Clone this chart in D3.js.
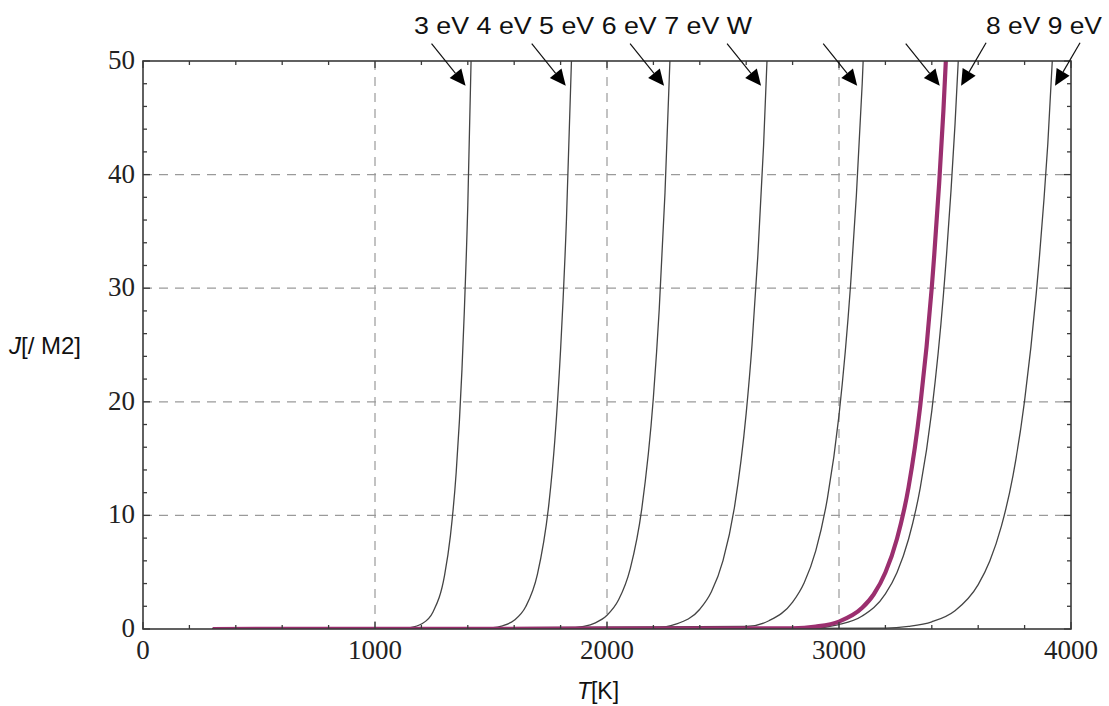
<!DOCTYPE html>
<html>
<head>
<meta charset="utf-8">
<script src="https://cdn.jsdelivr.net/npm/d3@7"></script>
<style>
  html, body { margin: 0; padding: 0; background: #fff; }
  svg { display: block; }
</style>
</head>
<body>
<svg id="chart" width="1109" height="706"></svg>
<script>
// ---------------- DATA ----------------
const xTicks = [0, 1000, 2000, 3000, 4000];
const yTicks = [0, 10, 20, 30, 40, 50];
const seriesNames = ["3 eV", "4 eV", "5 eV", "6 eV", "7 eV", "W", "8 eV", "9 eV"];

// [T (K), J] pairs
const curve3eV = [[300,0],[1000,0.001],[1100,0.026],[1150,0.113],[1200,0.435],[1250,1.5],[1300,4.75],[1325,8.2],[1350,13.8],[1375,22.9],[1400,37.3],[1425,59.8]];
const curve4eV = [[300,0],[1400,0.009],[1500,0.098],[1550,0.285],[1600,0.77],[1650,1.98],[1700,4.81],[1750,11.1],[1775,16.6],[1800,24.6],[1825,35.9],[1850,52.1]];
const curve5eV = [[300,0],[1800,0.039],[1900,0.237],[1950,0.546],[2000,1.21],[2050,2.57],[2100,5.3],[2150,10.6],[2200,20.4],[2225,28.1],[2250,38.4],[2275,52.1]];
const curve6eV = [[300,0],[2200,0.104],[2300,0.452],[2400,1.74],[2450,3.28],[2500,6.02],[2550,10.8],[2600,19.0],[2625,25.0],[2650,32.8],[2675,42.6],[2700,55.3]];
const curve7eV = [[300,0],[2600,0.219],[2700,0.751],[2800,2.37],[2850,4.08],[2900,6.9],[2950,11.5],[3000,18.8],[3050,30.3],[3075,38.2],[3100,48.0],[3125,60.2]];
const curveW   = [[300,0],[2800,0.065],[2900,0.213],[3000,0.652],[3100,1.86],[3150,3.06],[3200,4.97],[3250,7.95],[3300,12.5],[3350,19.6],[3400,30.1],[3450,45.6],[3475,56.1]];
const curve8eV = [[300,0],[2900,0.126],[3000,0.393],[3100,1.14],[3200,3.09],[3250,4.98],[3300,7.92],[3350,12.4],[3400,19.2],[3450,29.4],[3500,44.4],[3525,54.4]];
const curve9eV = [[300,0],[3200,0.082],[3300,0.235],[3400,0.633],[3500,1.61],[3600,3.91],[3650,5.98],[3700,9.05],[3750,13.5],[3800,20.1],[3850,29.5],[3900,42.7],[3950,61.6]];

// ---------------- LAYOUT ----------------
const plot = { left: 143, right: 1071, top: 61, bottom: 629 };
const svg = d3.select("#chart");

const x = d3.scaleLinear().domain([0, 4000]).range([plot.left, plot.right]);
const y = d3.scaleLinear().domain([0, 50]).range([plot.bottom, plot.top]);

const series = [
  { name: seriesNames[0], data: curve3eV, hl: false, side: -1 },
  { name: seriesNames[1], data: curve4eV, hl: false, side: -1 },
  { name: seriesNames[2], data: curve5eV, hl: false, side: -1 },
  { name: seriesNames[3], data: curve6eV, hl: false, side: -1 },
  { name: seriesNames[4], data: curve7eV, hl: false, side: -1 },
  { name: seriesNames[5], data: curveW,   hl: true,  side: -1 },
  { name: seriesNames[6], data: curve8eV, hl: false, side: 1 },
  { name: seriesNames[7], data: curve9eV, hl: false, side: 1 }
];

const axisColor = "#3a3a3a";
const gridColor = "#9a9a9a";

// clip
svg.append("defs").append("clipPath").attr("id", "plotClip")
  .append("rect").attr("x", plot.left).attr("y", plot.top)
  .attr("width", plot.right - plot.left).attr("height", plot.bottom - plot.top);

// grid
const grid = svg.append("g");
grid.selectAll("line.vg").data(xTicks.filter(d => d > 0 && d < 4000)).join("line")
  .attr("x1", d => x(d)).attr("x2", d => x(d))
  .attr("y1", plot.top).attr("y2", plot.bottom)
  .attr("stroke", gridColor).attr("stroke-width", 1.2).attr("stroke-dasharray", "9,7");
grid.selectAll("line.hg").data(yTicks.filter(d => d > 0 && d < 50)).join("line")
  .attr("y1", d => y(d)).attr("y2", d => y(d))
  .attr("x1", plot.left).attr("x2", plot.right)
  .attr("stroke", gridColor).attr("stroke-width", 1.2).attr("stroke-dasharray", "9,7");

// curves
const line = d3.line().x(d => x(d[0])).y(d => y(d[1])).curve(d3.curveMonotoneX);
const cg = svg.append("g").attr("clip-path", "url(#plotClip)");
series.filter(s => !s.hl).forEach(s => {
  cg.append("path").datum(s.data).attr("d", line)
    .attr("fill", "none").attr("stroke", "#444").attr("stroke-width", 1.3);
});
series.filter(s => s.hl).forEach(s => {
  cg.append("path").datum(s.data).attr("d", line)
    .attr("fill", "none").attr("stroke", "#9b2f6f").attr("stroke-width", 4.2);
});

// frame
svg.append("rect").attr("x", plot.left).attr("y", plot.top)
  .attr("width", plot.right - plot.left).attr("height", plot.bottom - plot.top)
  .attr("fill", "none").attr("stroke", axisColor).attr("stroke-width", 1.6);

// ticks (inward on all four sides)
const xMinor = d3.range(0, 4001, 200);
const yMinor = d3.range(0, 51, 2);
const tg = svg.append("g").attr("stroke", axisColor).attr("stroke-width", 1.3);
xMinor.forEach(t => {
  const L = (t % 1000 === 0) ? 7 : 4;
  tg.append("line").attr("x1", x(t)).attr("x2", x(t)).attr("y1", plot.bottom).attr("y2", plot.bottom - L);
  tg.append("line").attr("x1", x(t)).attr("x2", x(t)).attr("y1", plot.top).attr("y2", plot.top + L);
});
yMinor.forEach(t => {
  const L = (t % 10 === 0) ? 7 : 4;
  tg.append("line").attr("y1", y(t)).attr("y2", y(t)).attr("x1", plot.left).attr("x2", plot.left + L);
  tg.append("line").attr("y1", y(t)).attr("y2", y(t)).attr("x1", plot.right).attr("x2", plot.right - L);
});

// tick labels
const tickFont = "'Liberation Serif', 'DejaVu Serif', serif";
svg.append("g").selectAll("text").data(xTicks).join("text")
  .attr("x", d => x(d)).attr("y", plot.bottom + 30)
  .attr("text-anchor", "middle").attr("font-family", tickFont).attr("font-size", 27)
  .attr("fill", "#222").text(d => d);
svg.append("g").selectAll("text").data(yTicks).join("text")
  .attr("x", plot.left - 8).attr("y", d => y(d) + 8)
  .attr("text-anchor", "end").attr("font-family", tickFont).attr("font-size", 27)
  .attr("fill", "#222").text(d => d);

// axis titles
const sans = "'Liberation Sans', Arial, sans-serif";
const yt = svg.append("text").attr("x", 9).attr("y", 354)
  .attr("font-family", sans).attr("font-size", 24).attr("fill", "#111");
yt.append("tspan").attr("font-style", "italic").text("J");
yt.append("tspan").text("[/ M2]");
const xt = svg.append("text").attr("x", 598).attr("y", 699).attr("text-anchor", "middle")
  .attr("font-family", sans).attr("font-size", 23).attr("fill", "#111");
xt.append("tspan").attr("font-style", "italic").text("T");
xt.append("tspan").text("[K]");

// series labels (two runs of text above the frame)
const labelRuns = [
  { text: seriesNames.slice(0, 6).join(" "), x: 414, width: 338 },
  { text: seriesNames.slice(6).join(" "), x: 986, width: 116 }
];
svg.append("g").selectAll("text").data(labelRuns).join("text")
  .attr("x", d => d.x).attr("y", 34)
  .attr("font-family", sans).attr("font-size", 23).attr("fill", "#111")
  .attr("textLength", d => d.width).attr("lengthAdjust", "spacingAndGlyphs")
  .text(d => d.text);

// arrows pointing to each curve near the top
function tAtJ(data, J) {
  for (let i = 1; i < data.length; i++) {
    if (data[i][1] >= J) {
      const a = data[i - 1], b = data[i];
      return a[0] + (J - a[1]) / (b[1] - a[1]) * (b[0] - a[0]);
    }
  }
  return data[data.length - 1][0];
}
const ag = svg.append("g");
series.forEach(s => {
  const Jt = 48;
  const cx = x(tAtJ(s.data, Jt));
  const tip = [cx + (s.side < 0 ? -5 : 4), y(Jt) + 2];
  const tail = s.side < 0 ? [tip[0] - 34, tip[1] - 42] : [tip[0] + 25, tip[1] - 43];
  const dx = tip[0] - tail[0], dy = tip[1] - tail[1];
  const len = Math.hypot(dx, dy);
  const ux = dx / len, uy = dy / len;
  const hl = 16, hw = 7.5;
  const base = [tip[0] - ux * hl, tip[1] - uy * hl];
  ag.append("line").attr("x1", tail[0]).attr("y1", tail[1]).attr("x2", base[0]).attr("y2", base[1])
    .attr("stroke", "#111").attr("stroke-width", 1.2);
  const p1 = [base[0] - uy * hw, base[1] + ux * hw];
  const p2 = [base[0] + uy * hw, base[1] - ux * hw];
  ag.append("path").attr("d", `M${tip[0]},${tip[1]}L${p1[0]},${p1[1]}L${p2[0]},${p2[1]}Z`)
    .attr("fill", "#000");
});
</script>
</body>
</html>
